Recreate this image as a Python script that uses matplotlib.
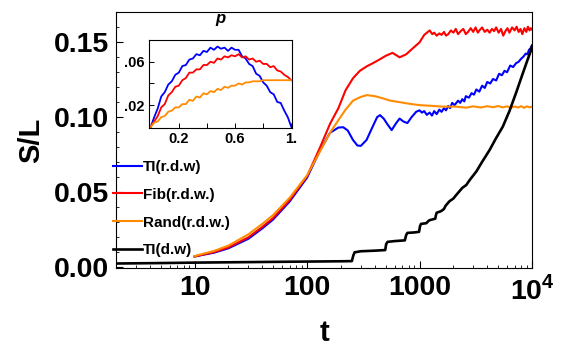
import numpy as np
import matplotlib
matplotlib.use("Agg")
import matplotlib.pyplot as plt
from matplotlib.ticker import FixedLocator, NullFormatter, LogLocator

plt.rcParams['font.family'] = ['Liberation Sans', 'DejaVu Sans']
plt.rcParams['font.weight'] = 'bold'
plt.rcParams['mathtext.fontset'] = 'custom'
plt.rcParams['mathtext.rm'] = 'Liberation Sans:bold'
plt.rcParams['mathtext.bf'] = 'Liberation Sans:bold'

# main panel: entanglement S/L vs time t
t_rdw = [10, 15, 20, 30, 40, 50, 70, 100, 130, 160]
blue_rise = [0.0067, 0.0093, 0.0122, 0.0185, 0.0255, 0.0315, 0.0435, 0.0595, 0.0775, 0.0895]
red_rise = [0.0067, 0.0097, 0.0128, 0.0195, 0.0265, 0.0325, 0.0445, 0.0605, 0.0795, 0.0955]
orange_rise = [0.0070, 0.0105, 0.0140, 0.0215, 0.0285, 0.0345, 0.0460, 0.0610, 0.0770, 0.0895]

t_blue = t_rdw + [190, 210, 230, 256, 280, 300, 338, 383, 420, 445, 480, 520, 565, 620, 665,
                  720, 780, 850, 935, 1000, 1050, 1100, 1160, 1230, 1290, 1350, 1420, 1500,
                  1570, 1650, 1720, 1800, 1870, 1950, 2050, 2200, 2300, 2400, 2500, 2580,
                  2750, 2900, 3050, 3200, 3400, 3600, 3800, 4000, 4250, 4500, 4800, 5100,
                  5400, 5700, 6000, 6400, 6800, 7200, 7600, 8000, 8400, 8800, 9100, 9400,
                  9700, 10000]
s_blue = blue_rise + [0.093, 0.0932, 0.091, 0.0847, 0.081, 0.0807, 0.0847, 0.0936, 0.100, 0.1013,
                      0.099, 0.095, 0.0913, 0.096, 0.099, 0.097, 0.096, 0.100, 0.1036, 0.1045,
                      0.1030, 0.1040, 0.1015, 0.1030, 0.1010, 0.1040, 0.1020, 0.1050, 0.1035,
                      0.1060, 0.1045, 0.1075, 0.1060, 0.1095, 0.1080, 0.1110, 0.1095, 0.1120,
                      0.1105, 0.1140, 0.1130, 0.1160, 0.1150, 0.1185, 0.1170, 0.1210, 0.1195,
                      0.1235, 0.1225, 0.1255, 0.1245, 0.1290, 0.1280, 0.1310, 0.1300, 0.1345,
                      0.1335, 0.1360, 0.1370, 0.1390, 0.1405, 0.1425, 0.1420, 0.1450, 0.1460,
                      0.1480]

t_red = t_rdw + [190, 220, 256, 295, 340, 383, 440, 500, 575, 665, 760, 870, 1000, 1100, 1230,
                 1300, 1350, 1420, 1500, 1570, 1650, 1720, 1800, 1900, 2000, 2100, 2200, 2320,
                 2450, 2580, 2700, 2850, 3000, 3150, 3300, 3450, 3600, 3800, 4000, 4200, 4400,
                 4600, 4800, 5050, 5300, 5550, 5800, 6050, 6300, 6650, 7000, 7300, 7600, 7900,
                 8200, 8550, 8900, 9200, 9500, 9750, 10000]
s_red = red_rise + [0.106, 0.118, 0.126, 0.131, 0.134, 0.136, 0.1385, 0.141, 0.143, 0.140, 0.142,
                    0.146, 0.150, 0.155, 0.158, 0.1555, 0.1565, 0.1545, 0.156, 0.155, 0.157,
                    0.1545, 0.1555, 0.158, 0.1565, 0.159, 0.1555, 0.1575, 0.159, 0.1555,
                    0.157, 0.1595, 0.157, 0.160, 0.1565, 0.1585, 0.160, 0.157, 0.1585, 0.1565,
                    0.159, 0.1575, 0.160, 0.1565, 0.159, 0.1545, 0.1575, 0.1595, 0.1565, 0.160,
                    0.158, 0.1605, 0.157, 0.159, 0.1555, 0.1595, 0.157, 0.1605, 0.158, 0.1595,
                    0.1585]

t_orange = t_rdw + [190, 220, 256, 300, 340, 400, 450, 550, 665, 800, 1000, 1300, 1600, 2100,
                    2600, 3000, 3500, 4000, 4500, 5000, 5500, 6000, 6500, 7000, 7500, 8000,
                    8500, 9000, 9500, 10000]
s_orange = orange_rise + [0.098, 0.105, 0.111, 0.1135, 0.1147, 0.114, 0.113, 0.111, 0.110, 0.109,
                          0.108, 0.1075, 0.107, 0.107, 0.1063, 0.1072, 0.1064, 0.1073, 0.1066,
                          0.1074, 0.1065, 0.1072, 0.1063, 0.1071, 0.1064, 0.1073, 0.1062,
                          0.1072, 0.1065, 0.107]

t_black = [2, 5, 10, 50, 100, 200, 250, 258, 265, 300, 400, 495, 505, 520, 600, 740, 760, 780,
           900, 990, 1010, 1030, 1150, 1200, 1230, 1300, 1380, 1400, 1420, 1550, 1650, 1700,
           1840, 2000, 2100, 2400, 2600, 2800, 3200, 3600, 4200, 4800, 5500, 6300, 7200, 8000,
           9000, 9800, 10000]
s_black = [0.0020, 0.0023, 0.0026, 0.0031, 0.0033, 0.0035, 0.0036, 0.0075, 0.0095, 0.0102,
           0.0106, 0.0110, 0.0150, 0.0165, 0.0170, 0.0175, 0.0210, 0.0225, 0.0228, 0.0232,
           0.0270, 0.0285, 0.0290, 0.0305, 0.0310, 0.0315, 0.0320, 0.0345, 0.0360, 0.0370,
           0.0385, 0.0405, 0.0436, 0.0455, 0.0475, 0.0526, 0.0545, 0.0580, 0.0636, 0.0700,
           0.0780, 0.0860, 0.0936, 0.1040, 0.1160, 0.1260, 0.1370, 0.1447, 0.1475]

labels = ['TI(r.d.w)', 'Fib(r.d.w.)', 'Rand(r.d.w.)', 'TI(d.w)']
colors = ['#0000ff', '#ff0000', '#ff8c00', '#000000']

# inset: S/L vs p
p = np.linspace(0, 1, 41)
in_blue = [0.000, 0.009, 0.017, 0.028, 0.032, 0.039, 0.042, 0.048, 0.050, 0.056, 0.057, 0.062,
           0.063, 0.067, 0.066, 0.070, 0.069, 0.073, 0.071, 0.074, 0.072, 0.073, 0.070, 0.073,
           0.071, 0.071, 0.065, 0.063, 0.058, 0.056, 0.049, 0.047, 0.041, 0.038, 0.032, 0.030,
           0.023, 0.022, 0.015, 0.009, 0.000]
in_red = [0.000, 0.005, 0.010, 0.018, 0.021, 0.029, 0.032, 0.037, 0.038, 0.043, 0.045, 0.050,
          0.050, 0.053, 0.053, 0.057, 0.057, 0.060, 0.059, 0.063, 0.062, 0.065, 0.064, 0.066,
          0.065, 0.067, 0.064, 0.065, 0.062, 0.063, 0.060, 0.061, 0.058, 0.058, 0.055, 0.056,
          0.052, 0.051, 0.048, 0.046, 0.043]
in_orange = [0.000, 0.004, 0.005, 0.009, 0.010, 0.014, 0.015, 0.018, 0.018, 0.021, 0.021, 0.025,
             0.024, 0.028, 0.027, 0.031, 0.030, 0.033, 0.032, 0.035, 0.034, 0.037, 0.036, 0.038,
             0.038, 0.040, 0.039, 0.041, 0.041, 0.042, 0.042, 0.042, 0.043, 0.043, 0.043, 0.043,
             0.043, 0.043, 0.043, 0.043, 0.043]

fig = plt.figure(figsize=(5.61, 3.49), dpi=100)
ax = fig.add_axes([0.2068, 0.2321, 0.7415, 0.7321])

ax.plot(t_blue, s_blue, color=colors[0], lw=1.5, label=labels[0])
ax.plot(t_red, s_red, color=colors[1], lw=1.5, label=labels[1])
ax.plot(t_orange, s_orange, color=colors[2], lw=1.5, label=labels[2])
ax.plot(t_black, s_black, color=colors[3], lw=1.9, label=labels[3])

ax.set_xscale('log')
ax.set_xlim(2, 1e4)
ax.set_ylim(-0.001, 0.17)
ax.set_xticks([10, 100, 1000, 10000])
ax.set_xticklabels(['10', '100', '1000', r'$10^4$'])
ax.xaxis.set_minor_locator(LogLocator(base=10, subs=np.arange(2, 10)))
ax.xaxis.set_minor_formatter(NullFormatter())
ax.set_yticks([0.0, 0.05, 0.10, 0.15])
ax.set_yticklabels(['0.00', '0.05', '0.10', '0.15'])
ax.yaxis.set_minor_locator(FixedLocator([0.01, 0.02, 0.03, 0.04, 0.06, 0.07, 0.08, 0.09,
                                          0.11, 0.12, 0.13, 0.14, 0.16]))
ax.tick_params(which='major', direction='in', length=5, width=0.8, labelsize=20.5, pad=5)
ax.tick_params(which='minor', direction='in', length=2.5, width=0.6)
for lab in ax.get_xticklabels() + ax.get_yticklabels():
    lab.set_fontweight('bold')
ax.set_xlabel('t', fontsize=21, fontweight='bold', labelpad=10)
ax.set_ylabel('S/L', fontsize=21, fontweight='bold', labelpad=6)

leg = ax.legend(loc='upper left', bbox_to_anchor=(113 / 561, 1 - 160 / 349),
                bbox_transform=fig.transFigure, frameon=False,
                handlelength=1.9, handletextpad=0.05, labelspacing=0.9,
                borderpad=0, borderaxespad=0, prop={'weight': 'bold', 'size': 11})

ins = fig.add_axes([0.2656, 0.6332, 0.2549, 0.2521])
ins.plot(p, in_blue, color=colors[0], lw=1.3)
ins.plot(p, in_red, color=colors[1], lw=1.3)
ins.plot(p, in_orange, color=colors[2], lw=1.3)
ins.set_xlim(-0.012, 1.005)
ins.set_ylim(-0.001, 0.08)
ins.set_xticks([0.2, 0.6, 1.0])
ins.set_xticklabels(['0.2', '0.6', '1.'])
ins.xaxis.set_minor_locator(FixedLocator([0.4, 0.8]))
ins.set_yticks([0.02, 0.06])
ins.set_yticklabels(['.02', '.06'])
ins.yaxis.set_minor_locator(FixedLocator([0.04]))
ins.tick_params(which='major', direction='in', length=3.5, width=0.7, labelsize=10.5, pad=3)
ins.tick_params(which='minor', direction='in', length=3.5, width=0.7)
for lab in ins.get_xticklabels() + ins.get_yticklabels():
    lab.set_fontweight('bold')
fig.text(220 / 561, 1 - 18 / 349, 'p', fontsize=12, style='italic',
         ha='center', va='center')

fig.savefig('out.png', dpi=100)
